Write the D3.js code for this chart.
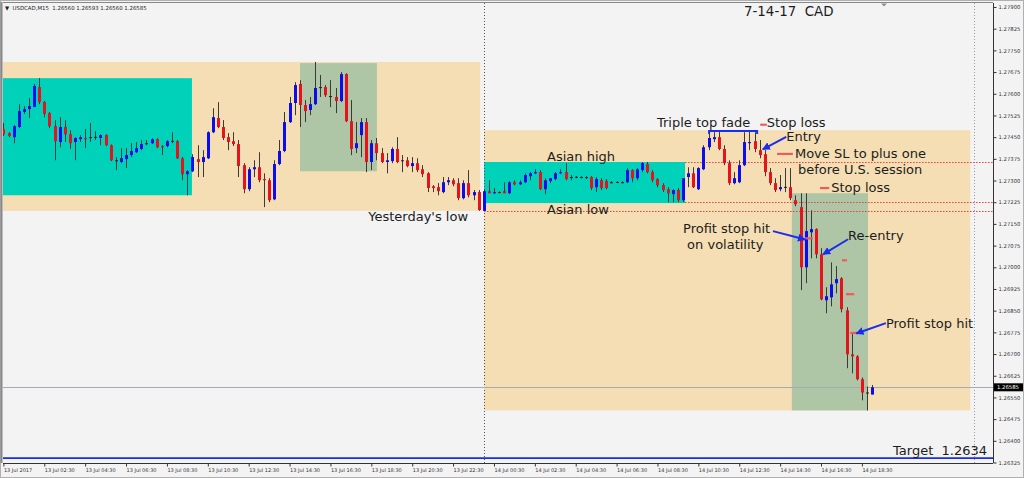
<!DOCTYPE html>
<html><head><meta charset="utf-8">
<script src="https://cdn.jsdelivr.net/npm/d3@7"></script>
<style>html,body{margin:0;padding:0;background:#f3f3f3}svg{display:block}</style>
</head><body>
<svg id="c" width="1024" height="478"></svg>
<script>
// ---------- DATA (USDCAD M15, 13 Jul 00:30 -> 14 Jul 19:00) ----------
const opens = [1.27478,1.27464,1.27450,1.27485,1.27537,1.27547,1.27554,1.27623,1.27571,1.27533,
1.27488,1.27433,1.27485,1.27460,1.27433,1.27443,1.27447,1.27447,1.27450,1.27447,
1.27457,1.27422,1.27370,1.27364,1.27374,1.27388,1.27398,1.27409,1.27426,1.27429,
1.27443,1.27419,1.27419,1.27436,1.27436,1.27377,1.27322,1.27332,1.27374,1.27364,
1.27377,1.27467,1.27516,1.27485,1.27450,1.27436,1.27426,1.27353,1.27270,1.27339,
1.27346,1.27305,1.27301,1.27235,1.27357,1.27402,1.27502,1.27568,1.27634,1.27561,
1.27544,1.27564,1.27620,1.27623,1.27592,1.27589,1.27575,1.27668,1.27505,1.27412,
1.27457,1.27502,1.27364,1.27429,1.27395,1.27364,1.27367,1.27409,1.27367,1.27370,
1.27350,1.27360,1.27339,1.27325,1.27280,1.27277,1.27260,1.27294,1.27301,1.27291,
1.27239,1.27291,1.27249,1.27260,1.27195,1.27263,1.27256,1.27260,1.27263,1.27256,
1.27294,1.27287,1.27294,1.27315,1.27325,1.27329,1.27270,1.27298,1.27305,1.27325,
1.27329,1.27312,1.27312,1.27312,1.27312,1.27312,1.27277,1.27301,1.27298,1.27294,
1.27294,1.27294,1.27294,1.27336,1.27308,1.27336,1.27357,1.27329,1.27305,1.27284,
1.27270,1.27253,1.27267,1.27232,1.27312,1.27325,1.27270,1.27339,1.27415,1.27443,
1.27450,1.27409,1.27360,1.27291,1.27294,1.27353,1.27429,1.27436,1.27405,1.27391,
1.27329,1.27291,1.27270,1.27277,1.27277,1.27232,1.27208,1.27000,1.27121,1.27132,
1.27045,1.26886,1.26896,1.26945,1.26962,1.26851,1.26699,1.26692,1.26613,1.26567,
1.26560];
const highs = [1.27499,1.27467,1.27492,1.27564,1.27557,1.27585,1.27634,1.27654,1.27575,1.27537,
1.27509,1.27519,1.27509,1.27474,1.27450,1.27457,1.27478,1.27499,1.27471,1.27460,
1.27460,1.27425,1.27381,1.27412,1.27412,1.27429,1.27433,1.27440,1.27440,1.27446,
1.27446,1.27422,1.27440,1.27467,1.27440,1.27381,1.27336,1.27391,1.27422,1.27405,
1.27470,1.27550,1.27571,1.27509,1.27464,1.27467,1.27440,1.27360,1.27346,1.27370,
1.27398,1.27325,1.27308,1.27370,1.27440,1.27537,1.27589,1.27640,1.27647,1.27578,
1.27589,1.27710,1.27665,1.27630,1.27647,1.27620,1.27675,1.27671,1.27578,1.27502,
1.27516,1.27516,1.27440,1.27447,1.27412,1.27395,1.27415,1.27450,1.27388,1.27381,
1.27381,1.27377,1.27353,1.27329,1.27284,1.27291,1.27312,1.27312,1.27308,1.27308,
1.27301,1.27336,1.27267,1.27267,1.27270,1.27301,1.27274,1.27263,1.27294,1.27298,
1.27301,1.27301,1.27325,1.27329,1.27339,1.27336,1.27308,1.27308,1.27329,1.27339,
1.27360,1.27319,1.27315,1.27315,1.27315,1.27315,1.27312,1.27308,1.27305,1.27298,
1.27298,1.27298,1.27343,1.27339,1.27343,1.27364,1.27364,1.27336,1.27308,1.27291,
1.27277,1.27270,1.27274,1.27308,1.27346,1.27346,1.27346,1.27422,1.27471,1.27467,
1.27474,1.27422,1.27370,1.27329,1.27370,1.27467,1.27471,1.27467,1.27440,1.27405,
1.27343,1.27308,1.27319,1.27343,1.27343,1.27249,1.27256,1.27256,1.27197,1.27135,
1.27066,1.26931,1.27017,1.27004,1.26966,1.26862,1.26772,1.26696,1.26619,1.26588,
1.26593];
const lows = [1.27454,1.27450,1.27429,1.27481,1.27530,1.27516,1.27554,1.27564,1.27519,1.27481,
1.27370,1.27415,1.27433,1.27409,1.27370,1.27433,1.27412,1.27433,1.27440,1.27422,
1.27419,1.27367,1.27336,1.27360,1.27343,1.27381,1.27395,1.27405,1.27422,1.27426,
1.27412,1.27388,1.27415,1.27429,1.27374,1.27301,1.27249,1.27329,1.27312,1.27312,
1.27374,1.27464,1.27481,1.27440,1.27405,1.27419,1.27312,1.27256,1.27263,1.27312,
1.27294,1.27208,1.27225,1.27232,1.27353,1.27398,1.27499,1.27526,1.27485,1.27502,
1.27526,1.27561,1.27589,1.27589,1.27554,1.27533,1.27571,1.27502,1.27388,1.27395,
1.27381,1.27329,1.27336,1.27370,1.27360,1.27325,1.27360,1.27360,1.27329,1.27346,
1.27329,1.27329,1.27312,1.27260,1.27260,1.27249,1.27256,1.27284,1.27280,1.27232,
1.27235,1.27242,1.27232,1.27195,1.27195,1.27256,1.27253,1.27256,1.27256,1.27253,
1.27284,1.27284,1.27291,1.27301,1.27322,1.27267,1.27253,1.27291,1.27301,1.27322,
1.27301,1.27301,1.27308,1.27308,1.27305,1.27267,1.27260,1.27267,1.27270,1.27291,
1.27291,1.27291,1.27291,1.27294,1.27301,1.27329,1.27325,1.27294,1.27277,1.27260,
1.27225,1.27225,1.27225,1.27225,1.27277,1.27274,1.27267,1.27336,1.27405,1.27433,
1.27405,1.27353,1.27284,1.27287,1.27291,1.27350,1.27405,1.27398,1.27377,1.27315,
1.27284,1.27260,1.27263,1.27260,1.27232,1.27211,1.26921,1.26945,1.27031,1.27031,
1.26886,1.26841,1.26865,1.26910,1.26844,1.26651,1.26633,1.26609,1.26540,1.26505,
1.26560];
const closes = [1.27460,1.27454,1.27488,1.27540,1.27547,1.27557,1.27627,1.27571,1.27530,1.27488,
1.27436,1.27485,1.27460,1.27429,1.27447,1.27450,1.27443,1.27450,1.27451,1.27457,
1.27422,1.27370,1.27367,1.27377,1.27388,1.27402,1.27412,1.27426,1.27429,1.27443,
1.27415,1.27415,1.27436,1.27437,1.27377,1.27322,1.27332,1.27381,1.27364,1.27381,
1.27467,1.27519,1.27485,1.27447,1.27433,1.27426,1.27350,1.27270,1.27339,1.27346,
1.27301,1.27301,1.27232,1.27357,1.27402,1.27502,1.27568,1.27630,1.27561,1.27540,
1.27564,1.27620,1.27623,1.27595,1.27592,1.27575,1.27668,1.27505,1.27409,1.27429,
1.27502,1.27364,1.27429,1.27395,1.27364,1.27370,1.27409,1.27364,1.27370,1.27350,
1.27360,1.27336,1.27322,1.27274,1.27274,1.27263,1.27294,1.27301,1.27287,1.27239,
1.27291,1.27249,1.27260,1.27198,1.27263,1.27256,1.27260,1.27260,1.27256,1.27294,
1.27287,1.27294,1.27319,1.27325,1.27329,1.27270,1.27301,1.27308,1.27325,1.27329,
1.27305,1.27312,1.27313,1.27311,1.27312,1.27274,1.27305,1.27274,1.27274,1.27294,
1.27295,1.27294,1.27336,1.27308,1.27339,1.27360,1.27329,1.27301,1.27284,1.27267,
1.27256,1.27267,1.27232,1.27308,1.27325,1.27277,1.27343,1.27415,1.27447,1.27450,
1.27409,1.27360,1.27291,1.27308,1.27353,1.27433,1.27433,1.27409,1.27388,1.27329,
1.27291,1.27267,1.27277,1.27278,1.27239,1.27218,1.27000,1.27125,1.27132,1.27045,
1.26889,1.26900,1.26941,1.26959,1.26855,1.26699,1.26692,1.26613,1.26567,1.26564,
1.26585];

const yTickValues = [1.26325,1.26400,1.26475,1.26550,1.26625,1.26700,1.26775,1.26850,1.26925,1.27000,
1.27075,1.27150,1.27225,1.27300,1.27375,1.27450,1.27525,1.27600,1.27675,1.27750,1.27825,1.27900];
const xTickBars = [0,8,16,24,32,40,48,56,64,72,80,88,96,104,112,120,128,136,144,152,160,168];
const xTickLabels = ["13 Jul 2017","13 Jul 02:30","13 Jul 04:30","13 Jul 06:30","13 Jul 08:30","13 Jul 10:30",
"13 Jul 12:30","13 Jul 14:30","13 Jul 16:30","13 Jul 18:30","13 Jul 20:30","13 Jul 22:30",
"14 Jul 00:30","14 Jul 02:30","14 Jul 04:30","14 Jul 06:30","14 Jul 08:30","14 Jul 10:30",
"14 Jul 12:30","14 Jul 14:30","14 Jul 16:30","14 Jul 18:30"];

const lastBid = 1.26585;
const targetPrice = 1.2634;
const daySeparatorBar = 94;
const futureLineBar = 190;

// boxes: [fromBar, toBar, priceTop, priceBottom]
const rangeBoxes = [[-0.7,93.3,1.27710,1.27195],[94.06,189.2,1.27474,1.26505]];
const asianBoxes = [[-0.7,36.9,1.27654,1.27249],[94.06,133.4,1.27364,1.27222]];
const sessionBoxes = [[58.05,73.1,1.27706,1.27332],[154.3,169.2,1.27256,1.26505]];
// red dotted levels: [fromBar, price]
const levels = [[133.4,1.27364],[133.4,1.27225],[94.06,1.27196]];

// annotations (bar, price)
const notes = [
 ["Triple top fade",127.9,1.27500],["Stop loss",149.4,1.27502],["Entry",153.2,1.27451],
 ["Move SL to plus one",154.9,1.27394],["before U.S. session",155.5,1.27338],["Stop loss",162.0,1.27275],
 ["Asian high",106.4,1.27384],["Asian low",106.4,1.27200],["Yesterday's low",71.4,1.27175],
 ["Profit stop hit",133.0,1.27135],["on volatility",133.8,1.27080],["Re-entry",165.3,1.27111],
 ["Profit stop hit",172.7,1.26807],["Target  1.2634",174.1,1.26367]
];
const arrows = [
 [153.2,1.27451,148.6,1.27408],[150.6,1.27125,156.9,1.27096],
 [165.3,1.27097,160.4,1.27045],[172.7,1.26807,166.9,1.26771]
];
const redDashes = [
 [148.1,149.4,1.27493],[151.4,154.5,1.27392],[159.8,161.6,1.27274],[156.9,158.4,1.27100],
 [164.1,165.1,1.27024],[164.9,166.5,1.26907],[165.7,167.0,1.26773]
];
const tripleTop = [138.1,147.5,1.27471];

// ---------- DRAW ----------
const svg = d3.select("#c");
const L = 3, R = 993, T = 3, B = 463;
const x = d3.scaleLinear().domain([0,170]).range([3.4,872.1]);
const y = d3.scaleLinear().domain([1.26325,1.279]).range([462.5,7]);

svg.append("rect").attr("width",1024).attr("height",478).attr("fill","#f3f3f3");
svg.append("clipPath").attr("id","pc").append("rect")
  .attr("x",L).attr("y",T).attr("width",R-L).attr("height",B-T);
const g = svg.append("g").attr("clip-path","url(#pc)");

function boxes(arr, fill){
  g.selectAll(null).data(arr).join("rect")
   .attr("x",d=>x(d[0])).attr("width",d=>x(d[1])-x(d[0]))
   .attr("y",d=>y(d[2])).attr("height",d=>y(d[3])-y(d[2]))
   .attr("fill",fill);
}
boxes(rangeBoxes,"#f5deb3");
boxes(asianBoxes,"#00d2ba");
boxes(sessionBoxes,"#aec6a6");

// separators
g.append("line").attr("x1",Math.round(x(daySeparatorBar))+0.5).attr("x2",Math.round(x(daySeparatorBar))+0.5)
 .attr("y1",T).attr("y2",B).attr("stroke","#555").attr("stroke-dasharray","1,2");
g.append("line").attr("x1",Math.round(x(futureLineBar))+0.5).attr("x2",Math.round(x(futureLineBar))+0.5)
 .attr("y1",T).attr("y2",B).attr("stroke","#999").attr("stroke-dasharray","1,2");

// levels
g.selectAll(null).data(levels).join("line")
 .attr("x1",d=>x(d[0])).attr("x2",R).attr("y1",d=>Math.round(y(d[1]))+0.5).attr("y2",d=>Math.round(y(d[1]))+0.5)
 .attr("stroke","#f03c3c").attr("stroke-width",1).attr("stroke-dasharray","1.5,1.5");

// bid & target lines
g.append("line").attr("x1",L).attr("x2",R).attr("y1",Math.round(y(lastBid))+0.5).attr("y2",Math.round(y(lastBid))+0.5)
 .attr("stroke","#a3abb6").attr("stroke-width",1);
g.append("line").attr("x1",L).attr("x2",R).attr("y1",y(targetPrice)).attr("y2",y(targetPrice))
 .attr("stroke","#1a2cf0").attr("stroke-width",1.6);

// candles
const bars = d3.range(opens.length).map(i=>({i,o:opens[i],h:highs[i],l:lows[i],c:closes[i]}));
const cx = d=>Math.round(x(d.i));
g.selectAll(".wick").data(bars).join("line").attr("class","wick")
 .attr("x1",d=>cx(d)+0.5).attr("x2",d=>cx(d)+0.5)
 .attr("y1",d=>y(d.h)).attr("y2",d=>y(d.l)).attr("stroke","#3a3a3a").attr("stroke-width",1);
g.selectAll(".body").data(bars).join("rect").attr("class","body")
 .attr("x",d=>cx(d)-1).attr("width",3)
 .attr("y",d=>y(Math.max(d.o,d.c)))
 .attr("height",d=>Math.max(1,Math.abs(y(d.o)-y(d.c))))
 .attr("fill",d=>Math.abs(y(d.o)-y(d.c))<1?"#222":(d.c>d.o?"#0c0cf0":"#e8121c"));

// triple top line
g.append("path").attr("d",`M${x(tripleTop[0])},${y(tripleTop[2])+3}V${y(tripleTop[2])}H${x(tripleTop[1])}V${y(tripleTop[2])+3}`)
 .attr("fill","none").attr("stroke","#1a2cf0").attr("stroke-width",2);

// red dashes
g.selectAll(null).data(redDashes).join("line")
 .attr("x1",d=>x(d[0])).attr("x2",d=>x(d[1])).attr("y1",d=>y(d[2])).attr("y2",d=>y(d[2]))
 .attr("stroke","#f05a5a").attr("stroke-width",2.2);

// arrows
svg.append("defs").append("marker").attr("id","ah").attr("viewBox","0 0 10 10")
 .attr("refX",9).attr("refY",5).attr("markerWidth",4).attr("markerHeight",4).attr("orient","auto")
 .append("path").attr("d","M0,0L10,5L0,10z").attr("fill","#1a2cf0");
g.selectAll(null).data(arrows).join("line")
 .attr("x1",d=>x(d[0])).attr("y1",d=>y(d[1])).attr("x2",d=>x(d[2])).attr("y2",d=>y(d[3]))
 .attr("stroke","#1a2cf0").attr("stroke-width",2).attr("marker-end","url(#ah)");

// notes
g.selectAll(null).data(notes).join("text")
 .attr("x",d=>x(d[1])).attr("y",d=>y(d[2])).attr("dominant-baseline","central")
 .attr("font-family","DejaVu Sans").attr("font-size",13).attr("fill","#1c1c1c")
 .style("white-space","pre").text(d=>d[0]);

// title
svg.append("text").attr("x",744).attr("y",11).attr("dominant-baseline","central")
 .attr("font-family","DejaVu Sans").attr("font-size",13.4).attr("fill","#1c1c1c")
 .style("white-space","pre").text("7-14-17  CAD");

// header
svg.append("text").attr("x",5).attr("y",7.5).attr("dominant-baseline","central")
 .attr("font-family","DejaVu Sans").attr("font-size",5.4).attr("fill","#222")
 .style("white-space","pre").text("\u25BC  USDCAD,M15  1.26560 1.26593 1.26560 1.26585");
svg.append("path").attr("d","M881,3.5L887,3.5L884,6.5Z").attr("fill","#8a8f99");

// frame
svg.append("rect").attr("x",0.5).attr("y",0.5).attr("width",1023).attr("height",477)
 .attr("fill","none").attr("stroke","#b0b0b0");
svg.append("line").attr("x1",L).attr("x2",R).attr("y1",2.5).attr("y2",2.5).attr("stroke","#888");
svg.append("line").attr("x1",1.5).attr("x2",1.5).attr("y1",2).attr("y2",B).attr("stroke","#888").attr("stroke-width",2);

// axes
const ya = svg.append("g").attr("transform",`translate(${R+0.5},0)`)
 .call(d3.axisRight(y).tickValues(yTickValues).tickFormat(d3.format(".5f")).tickSize(3).tickSizeOuter(0));
ya.select(".domain").attr("d",`M0,${T}V${B}`).attr("stroke","#333");
ya.selectAll("line").attr("stroke","#333");
ya.selectAll("text").attr("font-family","DejaVu Sans").attr("font-size",5.3).attr("fill","#333").attr("x",5);

const xa = svg.append("g").attr("transform",`translate(0,${B+0.5})`)
 .call(d3.axisBottom(x).tickValues(xTickBars).tickFormat((d,i)=>xTickLabels[i]).tickSize(3).tickSizeOuter(0));
xa.select(".domain").attr("d",`M${L},0H${R}`).attr("stroke","#333");
xa.selectAll("line").attr("stroke","#333");
xa.selectAll("text").attr("font-family","DejaVu Sans").attr("font-size",5).attr("fill","#333")
 .attr("text-anchor","start").attr("y",4.5);

// current price label
svg.append("rect").attr("x",R+1).attr("y",y(lastBid)-4).attr("width",29).attr("height",8).attr("fill","#000");
svg.append("text").attr("x",R+4).attr("y",y(lastBid)).attr("dominant-baseline","central")
 .attr("font-family","DejaVu Sans").attr("font-size",5.3).attr("fill","#fff").text(d3.format(".5f")(lastBid));
</script>
</body></html>
